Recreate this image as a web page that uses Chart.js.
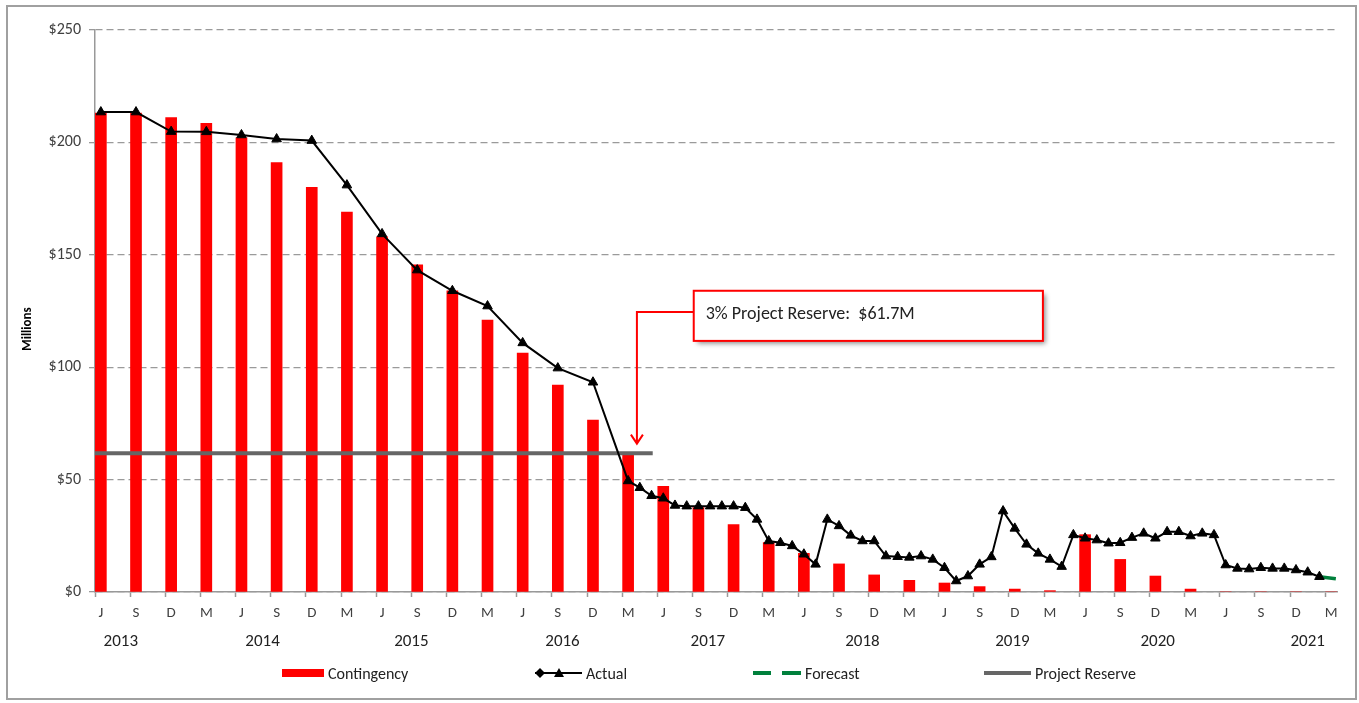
<!DOCTYPE html>
<html>
<head>
<meta charset="utf-8">
<script src="https://cdn.jsdelivr.net/npm/chart.js@4.4.1/dist/chart.umd.min.js"></script>
<style>
  html, body { margin: 0; padding: 0; background: #fff; }
  #wrap { position: relative; width: 1359px; height: 703px; font-family: Carlito, Calibri, Lato, sans-serif; }
  #frame { position: absolute; left: 6px; top: 5px; width: 1351px; height: 695px; border: 2px solid #a0a0a0; box-sizing: border-box; pointer-events: none; }
  canvas { position: absolute; left: 0; top: 0; }
  .leg { position: absolute; top: 663px; height: 20px; display: flex; align-items: center; font-size: 16px; color: #222; white-space: nowrap; }
  .leg svg { margin-right: 3px; }
</style>
</head>
<body>
<div id="wrap">
  <canvas id="grafico" width="1359" height="703"></canvas>
  <div id="frame"></div>
  <div class="leg" style="left:282px"><svg width="43" height="10"><rect x="0" y="1" width="42" height="8" fill="#ff0000"/></svg>Contingency</div>
  <div class="leg" style="left:534px"><svg width="49" height="12"><line x1="1" y1="6" x2="48" y2="6" stroke="#000" stroke-width="2"/><polygon points="6,1 11,6 6,11 1,6" fill="#000"/><polygon points="25,1 30,10 20,10" fill="#000"/></svg>Actual</div>
  <div class="leg" style="left:753px"><svg width="49" height="10"><line x1="0" y1="5" x2="18" y2="5" stroke="#00803c" stroke-width="4"/><line x1="29" y1="5" x2="48" y2="5" stroke="#00803c" stroke-width="4"/></svg>Forecast</div>
  <div class="leg" style="left:984px"><svg width="48" height="10"><line x1="0" y1="5" x2="47" y2="5" stroke="#666" stroke-width="4"/></svg>Project Reserve</div>
</div>
<script>
// etiquetas trimestrales del eje x
const quarterLabels = ['J','S','D','M','J','S','D','M','J','S','D','M','J','S','D','M','J','S','D','M',
                       'J','S','D','M','J','S','D','M','J','S','D','M','J','S','D','M'];
const yearLabels = ['2013','2014','2015','2016','2017','2018','2019','2020','2021'];
const yearMonths = [1.7, 13.8, 26.5, 39.4, 51.8, 65.0, 77.8, 90.2, 103.0];

// contingencia (millones), un valor por trimestre
const contingency = [213, 213, 211, 208.5, 202, 191, 180, 169, 158, 145.5, 134, 121,
                     106.3, 92, 76.5, 61, 47, 37.5, 30, 22, 17.2, 12.5, 7.6, 5.2,
                     4.0, 2.4, 1.3, 0.6, 25.5, 14.5, 7.1, 1.3, 0, 0, 0, 0];

// real (mes desde junio 2013)
const actualMonths = [0, 3, 6, 9, 12, 15, 18, 21, 24, 27, 30, 33, 36, 39, 42, 45, 46, 47, 48, 49,
                      50, 51, 52, 53, 54, 55, 56, 57, 58, 59, 60, 61, 62, 63, 64, 65, 66, 67, 68, 69,
                      70, 71, 72, 73, 74, 75, 76, 77, 78, 79, 80, 81, 82, 83, 84, 85, 86, 87, 88, 89,
                      90, 91, 92, 93, 94, 95, 96, 97, 98, 99, 100, 101, 102, 103, 104];
const actualValues = [213.5, 213.5, 204.8, 204.7, 203.3, 201.5, 200.8, 181, 159.3, 143.2, 134, 127.2, 110.8, 99.6, 93.3, 49.4, 46.4, 42.8, 41.7, 38.5,
                      38.2, 38.2, 38.2, 38.2, 38.2, 37.5, 32.3, 22.7, 21.9, 20.5, 16.8, 12.3, 32.3, 29.4, 25.2, 22.7, 22.7, 16.0, 15.7, 15.4,
                      16.0, 14.5, 10.8, 4.9, 7.1, 12.3, 15.6, 36.0, 28.3, 21.2, 17.2, 14.5, 11.3, 25.4, 23.9, 23.1, 21.7, 21.9, 24.2, 26.1,
                      23.9, 26.8, 26.8, 24.9, 26.1, 25.4, 12.0, 10.5, 10.2, 10.8, 10.5, 10.5, 9.8, 8.8, 6.8];

const forecastMonths = [104, 105.4];
const forecastValues = [6.8, 5.9];

const reserveMonths = [-0.5, 47.1];
const reserveValue = 61.7;

const totalMonths = quarterLabels.length * 3 - 2; // 106 meses en el eje

const monthLabels = [];
const contingencyByMonth = [];
for (let i = 0; i < totalMonths; i++) {
  monthLabels.push(i % 3 === 0 ? quarterLabels[i / 3] : '');
  contingencyByMonth.push(i % 3 === 0 ? contingency[i / 3] : null);
}

const toPoints = (xs, ys) => xs.map((x, i) => ({ x: x, y: Array.isArray(ys) ? ys[i] : ys }));

const fuente = "Carlito, Calibri, Lato, sans-serif";

const extras = {
  id: 'extras',
  afterDraw(chart) {
    const ctx = chart.ctx;
    const xl = chart.scales.xl;
    const y = chart.scales.y;
    const area = chart.chartArea;

    // titulo del eje y
    ctx.save();
    ctx.translate(28, y.getPixelForValue(117));
    ctx.rotate(-Math.PI / 2);
    ctx.font = 'bold 13px ' + fuente;
    ctx.fillStyle = '#000';
    ctx.textAlign = 'center';
    ctx.textBaseline = 'middle';
    ctx.fillText('Millions', 0, 0);
    ctx.restore();

    // años bajo el eje
    ctx.save();
    ctx.font = '17px ' + fuente;
    ctx.fillStyle = '#222';
    ctx.textAlign = 'center';
    ctx.textBaseline = 'middle';
    yearLabels.forEach((t, i) => ctx.fillText(t, xl.getPixelForValue(yearMonths[i]), area.bottom + 50));
    ctx.restore();

    // nota de la reserva
    const ax = xl.getPixelForValue(45.75);
    const tipY = y.getPixelForValue(66);
    const elbowY = y.getPixelForValue(124.5);
    const bx1 = xl.getPixelForValue(50.6), bx2 = xl.getPixelForValue(80.4);
    const by1 = y.getPixelForValue(134), by2 = y.getPixelForValue(111.7);

    ctx.save();
    ctx.strokeStyle = '#ff0000';
    ctx.lineWidth = 2;
    ctx.beginPath();
    ctx.moveTo(bx1, elbowY);
    ctx.lineTo(ax, elbowY);
    ctx.lineTo(ax, tipY);
    ctx.moveTo(ax - 6, tipY - 9);
    ctx.lineTo(ax, tipY);
    ctx.lineTo(ax + 6, tipY - 9);
    ctx.stroke();

    ctx.shadowColor = 'rgba(0,0,0,0.45)';
    ctx.shadowBlur = 5;
    ctx.shadowOffsetX = 3;
    ctx.shadowOffsetY = 3;
    ctx.fillStyle = '#fff';
    ctx.fillRect(bx1, by1, bx2 - bx1, by2 - by1);
    ctx.shadowColor = 'transparent';
    ctx.strokeRect(bx1, by1, bx2 - bx1, by2 - by1);

    ctx.font = '18px ' + fuente;
    ctx.fillStyle = '#222';
    ctx.textBaseline = 'middle';
    ctx.fillText('3% Project Reserve:  $61.7M', bx1 + 12, (by1 + by2) / 2 - 1);
    ctx.restore();
  }
};

new Chart(document.getElementById('grafico'), {
  type: 'bar',
  data: {
    labels: monthLabels,
    datasets: [
      {
        type: 'line',
        label: 'Actual',
        xAxisID: 'xl',
        data: toPoints(actualMonths, actualValues),
        borderColor: '#000',
        borderWidth: 2,
        pointStyle: 'triangle',
        pointRadius: 5.5,
        pointBackgroundColor: '#000',
        pointBorderColor: '#000',
        pointBorderWidth: 1,
        tension: 0,
        order: 0
      },
      {
        type: 'line',
        label: 'Forecast',
        xAxisID: 'xl',
        data: toPoints(forecastMonths, forecastValues),
        borderColor: '#00803c',
        borderWidth: 3.5,
        borderDash: [18, 11],
        pointRadius: 0,
        order: 1
      },
      {
        type: 'line',
        label: 'Project Reserve',
        xAxisID: 'xl',
        data: toPoints(reserveMonths, reserveValue),
        borderColor: '#666',
        borderWidth: 4,
        pointRadius: 0,
        order: 2
      },
      {
        label: 'Contingency',
        xAxisID: 'x',
        data: contingencyByMonth,
        backgroundColor: '#ff0000',
        barThickness: 11,
        grouped: false,
        order: 3
      }
    ]
  },
  options: {
    responsive: false,
    animation: false,
    layout: { padding: { left: 6, right: 22, top: 30, bottom: 81 } },
    plugins: {
      legend: { display: false },
      tooltip: { enabled: false }
    },
    scales: {
      x: {
        type: 'category',
        offset: true,
        grid: {
          offset: true,
          drawOnChartArea: false,
          tickLength: 5,
          tickWidth: 1.5,
          tickColor: c => (c.index !== undefined && c.index % 3 === 0) ? '#999' : 'rgba(0,0,0,0)'
        },
        border: { color: '#999', width: 1.5 },
        ticks: {
          autoSkip: false,
          maxRotation: 0,
          minRotation: 0,
          padding: 7,
          color: '#404040',
          font: { size: 15, family: fuente }
        },
        afterFit: s => { s.height = 30; }
      },
      xl: {
        type: 'linear',
        display: false,
        offset: false,
        grid: { offset: false },
        min: -0.5,
        max: totalMonths - 0.5
      },
      y: {
        min: 0,
        max: 250,
        ticks: {
          stepSize: 50,
          padding: 8,
          color: '#404040',
          font: { size: 16, family: fuente },
          callback: v => '$' + v
        },
        grid: { color: '#9a9a9a', lineWidth: 1.3, tickLength: 6, tickColor: '#999' },
        border: { color: '#999', width: 1.5, dash: [7, 4] },
        afterFit: s => { s.width = 89; }
      }
    }
  },
  plugins: [extras]
});
</script>
</body>
</html>
